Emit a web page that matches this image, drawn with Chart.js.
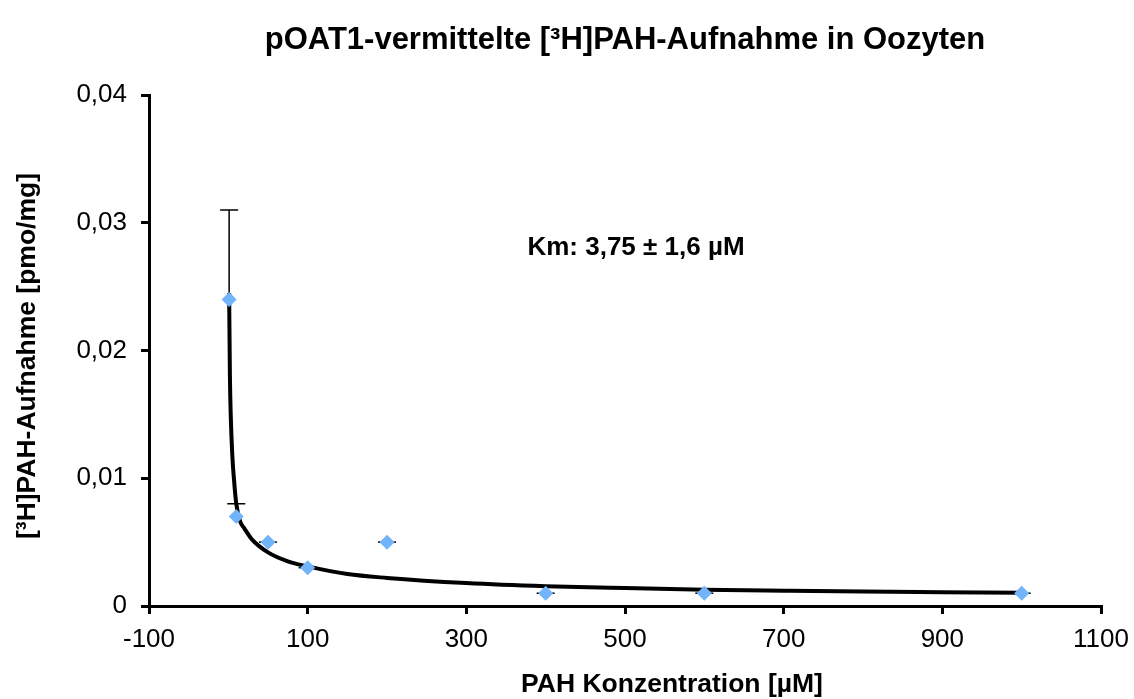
<!DOCTYPE html>
<html>
<head>
<meta charset="utf-8">
<script src="https://cdn.jsdelivr.net/npm/chart.js@4.4.0/dist/chart.umd.min.js"></script>
<style>
  html, body { margin: 0; padding: 0; background: #fff; }
  #wrap { width: 1134px; height: 699px; }
</style>
</head>
<body>
<div id="wrap"><canvas id="chart" width="1134" height="699"></canvas></div>
<script>
// measured points
const conc = [1, 10, 50, 100, 200, 400, 600, 1000];
const uptake = [0.024, 0.007, 0.005, 0.003, 0.005, 0.001, 0.001, 0.001];
const errPlus = [0.007, 0.001, 0, 0, 0, 0, 0, 0];

// trend line
const fitX = [1, 2, 3, 5, 7, 10, 15, 20, 30, 50, 75, 100, 150, 200, 300, 400, 500, 600, 700, 800, 900, 1000];
const fitY = [0.0245, 0.018, 0.015, 0.0118, 0.0100, 0.0080, 0.0066, 0.0061, 0.0052, 0.0042, 0.0035, 0.0031,
              0.0025, 0.0022, 0.0018, 0.00155, 0.0014, 0.00128, 0.0012, 0.00113, 0.00108, 0.00103];

const xMin = -100, xMax = 1100, xStep = 200;
const yMin = 0, yMax = 0.04, yStep = 0.01;

const titleText = 'pOAT1-vermittelte [³H]PAH-Aufnahme in Oozyten';
const xTitle = 'PAH Konzentration [µM]';
const yTitle = '[³H]PAH-Aufnahme [pmo/mg]';
const kmText = 'Km: 3,75 ± 1,6 µM';

const FONT = '"Liberation Sans", Arial, sans-serif';

const errorBars = {
  id: 'errorBars',
  beforeDatasetsDraw(chart) {
    const ctx = chart.ctx, xs = chart.scales.x, ys = chart.scales.y;
    ctx.save();
    ctx.strokeStyle = '#000';
    ctx.lineWidth = 1.5;
    for (let i = 0; i < conc.length; i++) {
      const px = xs.getPixelForValue(conc[i]);
      const p0 = ys.getPixelForValue(uptake[i]);
      const p1 = ys.getPixelForValue(uptake[i] + errPlus[i]);
      ctx.beginPath();
      ctx.moveTo(px, p0);
      ctx.lineTo(px, p1);
      ctx.moveTo(px - 9, p1);
      ctx.lineTo(px + 9, p1);
      ctx.stroke();
    }
    ctx.restore();
  }
};

const labels = {
  id: 'labels',
  afterDraw(chart) {
    const ctx = chart.ctx, a = chart.chartArea;
    const cx = (a.left + a.right) / 2;
    ctx.save();
    ctx.fillStyle = '#000';
    ctx.textAlign = 'center';
    ctx.textBaseline = 'middle';
    ctx.font = 'bold 31px ' + FONT;
    ctx.fillText(titleText, cx, 40);
    ctx.font = 'bold 26px ' + FONT;
    ctx.fillText(kmText, 636, 248);
    ctx.font = 'bold 26.5px ' + FONT;
    ctx.fillText(xTitle, 672, 685);
    ctx.translate(28, 356);
    ctx.rotate(-Math.PI / 2);
    ctx.fillText(yTitle, 0, 0);
    ctx.restore();
  }
};

new Chart(document.getElementById('chart'), {
  type: 'scatter',
  data: {
    datasets: [{
      label: 'Messwerte',
      data: conc.map((x, i) => ({ x: x, y: uptake[i] })),
      pointStyle: 'rectRot',
      pointRadius: 7.5,
      pointHoverRadius: 7.5,
      pointBackgroundColor: '#72B4FA',
      pointBorderWidth: 0,
      order: 0
    }, {
      type: 'line',
      label: 'Fit',
      data: fitX.map((x, i) => ({ x: x, y: fitY[i] })),
      borderColor: '#000',
      borderWidth: 4,
      pointRadius: 0,
      fill: false,
      cubicInterpolationMode: 'monotone',
      order: 1
    }]
  },
  options: {
    responsive: false,
    animation: false,
    layout: { padding: { left: 0, top: 95, right: 33, bottom: 0 } },
    plugins: { legend: { display: false }, tooltip: { enabled: false } },
    scales: {
      x: {
        type: 'linear',
        min: xMin, max: xMax,
        afterFit: s => { s.height = 93; s.paddingLeft = 0; s.paddingRight = 0; },
        ticks: {
          stepSize: xStep,
          color: '#000',
          padding: 10,
          font: { family: FONT, size: 26 },
          maxRotation: 0,
          callback: v => String(v)
        },
        grid: { display: true, drawOnChartArea: false, tickLength: 8, color: '#000', lineWidth: 3 },
        border: { color: '#000', width: 3 }
      },
      y: {
        min: yMin, max: yMax,
        afterFit: s => { s.width = 149; s.paddingTop = 0; s.paddingBottom = 0; },
        ticks: {
          stepSize: yStep,
          color: '#000',
          padding: 14,
          font: { family: FONT, size: 26 },
          callback: v => v === 0 ? '0' : v.toFixed(2).replace('.', ',')
        },
        grid: { display: true, drawOnChartArea: false, tickLength: 8, color: '#000', lineWidth: 3 },
        border: { color: '#000', width: 3 }
      }
    }
  },
  plugins: [errorBars, labels]
});
</script>
</body>
</html>
